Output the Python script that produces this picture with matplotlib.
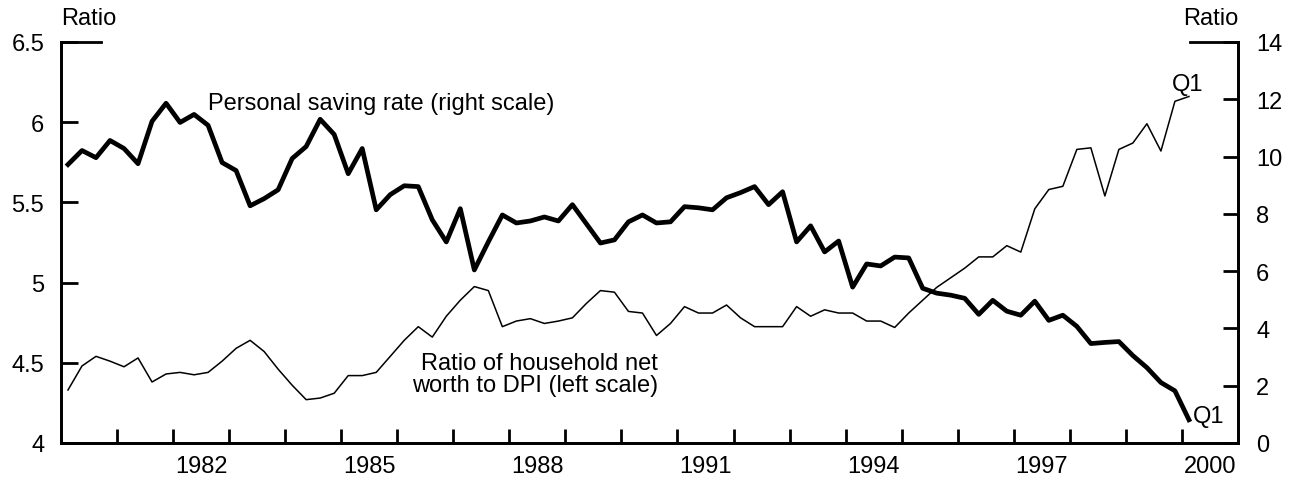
import numpy as np
import matplotlib.pyplot as plt

plt.rcParams['font.family'] = ['Liberation Sans', 'DejaVu Sans']

# quarterly data, 1980:Q1 to 2000:Q1
start_year = 1980
# personal saving rate, percent (right scale)
saving_rate = [9.72, 10.21, 9.96, 10.56, 10.28, 9.75, 11.23, 11.86, 11.19, 11.47,
               11.09, 9.79, 9.51, 8.28, 8.53, 8.84, 9.93, 10.35, 11.30, 10.77,
               9.40, 10.28, 8.14, 8.67, 8.98, 8.95, 7.79, 7.02, 8.18, 6.04,
               7.02, 7.96, 7.68, 7.75, 7.89, 7.75, 8.32, 7.65, 6.98, 7.09,
               7.72, 7.96, 7.68, 7.72, 8.25, 8.21, 8.14, 8.56, 8.74, 8.95,
               8.32, 8.77, 7.02, 7.58, 6.67, 7.05, 5.44, 6.25, 6.18, 6.49,
               6.46, 5.40, 5.23, 5.16, 5.05, 4.49, 4.98, 4.60, 4.46, 4.95,
               4.28, 4.46, 4.07, 3.47, 3.51, 3.54, 3.05, 2.63, 2.11, 1.82, 0.81]
# ratio of household net worth to DPI (left scale)
net_worth_ratio = [4.33, 4.48, 4.54, 4.51, 4.475, 4.53, 4.38, 4.43, 4.44, 4.425,
                   4.44, 4.51, 4.59, 4.64, 4.57, 4.46, 4.36, 4.27, 4.28, 4.31,
                   4.42, 4.42, 4.44, 4.54, 4.64, 4.725, 4.66, 4.79, 4.89, 4.975,
                   4.95, 4.725, 4.76, 4.775, 4.745, 4.76, 4.78, 4.87, 4.95, 4.94,
                   4.82, 4.81, 4.67, 4.745, 4.85, 4.81, 4.81, 4.86, 4.78, 4.725,
                   4.725, 4.725, 4.85, 4.79, 4.83, 4.81, 4.81, 4.76, 4.76, 4.72,
                   4.81, 4.89, 4.97, 5.03, 5.09, 5.16, 5.16, 5.23, 5.19, 5.46,
                   5.58, 5.60, 5.83, 5.84, 5.54, 5.83, 5.87, 5.99, 5.82, 6.13, 6.16]

left_ticks = [4, 4.5, 5, 5.5, 6, 6.5]
left_labels = ['4', '4.5', '5', '5.5', '6', '6.5']
right_ticks = [0, 2, 4, 6, 8, 10, 12, 14]
year_labels = [1982, 1985, 1988, 1991, 1994, 1997, 2000]

# mid-quarter positions
x = start_year + (np.arange(len(saving_rate)) + 0.5) / 4

fs = 17
fig = plt.figure(figsize=(12.97, 4.81), dpi=100)
ax = fig.add_axes([0.047, 0.077, 0.9075, 0.8337])
ax2 = ax.twinx()

ax.plot(x, net_worth_ratio, color='black', lw=1.1)
ax2.plot(x, saving_rate, color='black', lw=3.4)

ax.set_xlim(1980, 2001)
ax.set_ylim(4, 6.5)
ax2.set_ylim(0, 14)

# year boundaries get ticks, labels sit in the middle of the year
ax.set_xticks(range(1981, 2001))
ax.set_xticklabels([])
ax.set_xticks([y + 0.5 for y in year_labels], minor=True)
ax.set_xticklabels([str(y) for y in year_labels], minor=True)
ax.tick_params(axis='x', which='major', direction='in', length=10, width=2)
ax.tick_params(axis='x', which='minor', length=0, pad=9, labelsize=fs)

ax.set_yticks(left_ticks)
ax.set_yticklabels(left_labels)
ax.tick_params(axis='y', direction='in', length=12, width=2, pad=12, labelsize=fs)
ax2.set_yticks(right_ticks)
ax2.tick_params(axis='y', direction='in', length=11, width=2, pad=13, labelsize=fs)

for a in (ax, ax2):
    a.spines['top'].set_visible(False)
    for s in ('left', 'right', 'bottom'):
        a.spines[s].set_linewidth(2)

# short stubs at the top of each scale
ax.plot([0, 0.034], [1, 1], transform=ax.transAxes, color='black', lw=2, clip_on=False)
ax.plot([0.959, 1], [1, 1], transform=ax.transAxes, color='black', lw=2, clip_on=False)

ax.text(0, 1.045, 'Ratio', transform=ax.transAxes, ha='left', va='baseline', fontsize=fs)
ax.text(1, 1.045, 'Ratio', transform=ax.transAxes, ha='right', va='baseline', fontsize=fs)

ax2.text(1982.62, 11.65, 'Personal saving rate (right scale)', ha='left', va='baseline', fontsize=fs)
ax.text(1990.65, 4.57, 'Ratio of household net\nworth to DPI (left scale)', ha='right', va='top',
        multialignment='right', linespacing=1.0, fontsize=fs)
ax.text(2000.11, 6.2, 'Q1', ha='center', va='baseline', fontsize=fs)
ax2.text(2000.2, 0.95, 'Q1', ha='left', va='center', fontsize=fs)

fig.savefig('out.png', dpi=100)
